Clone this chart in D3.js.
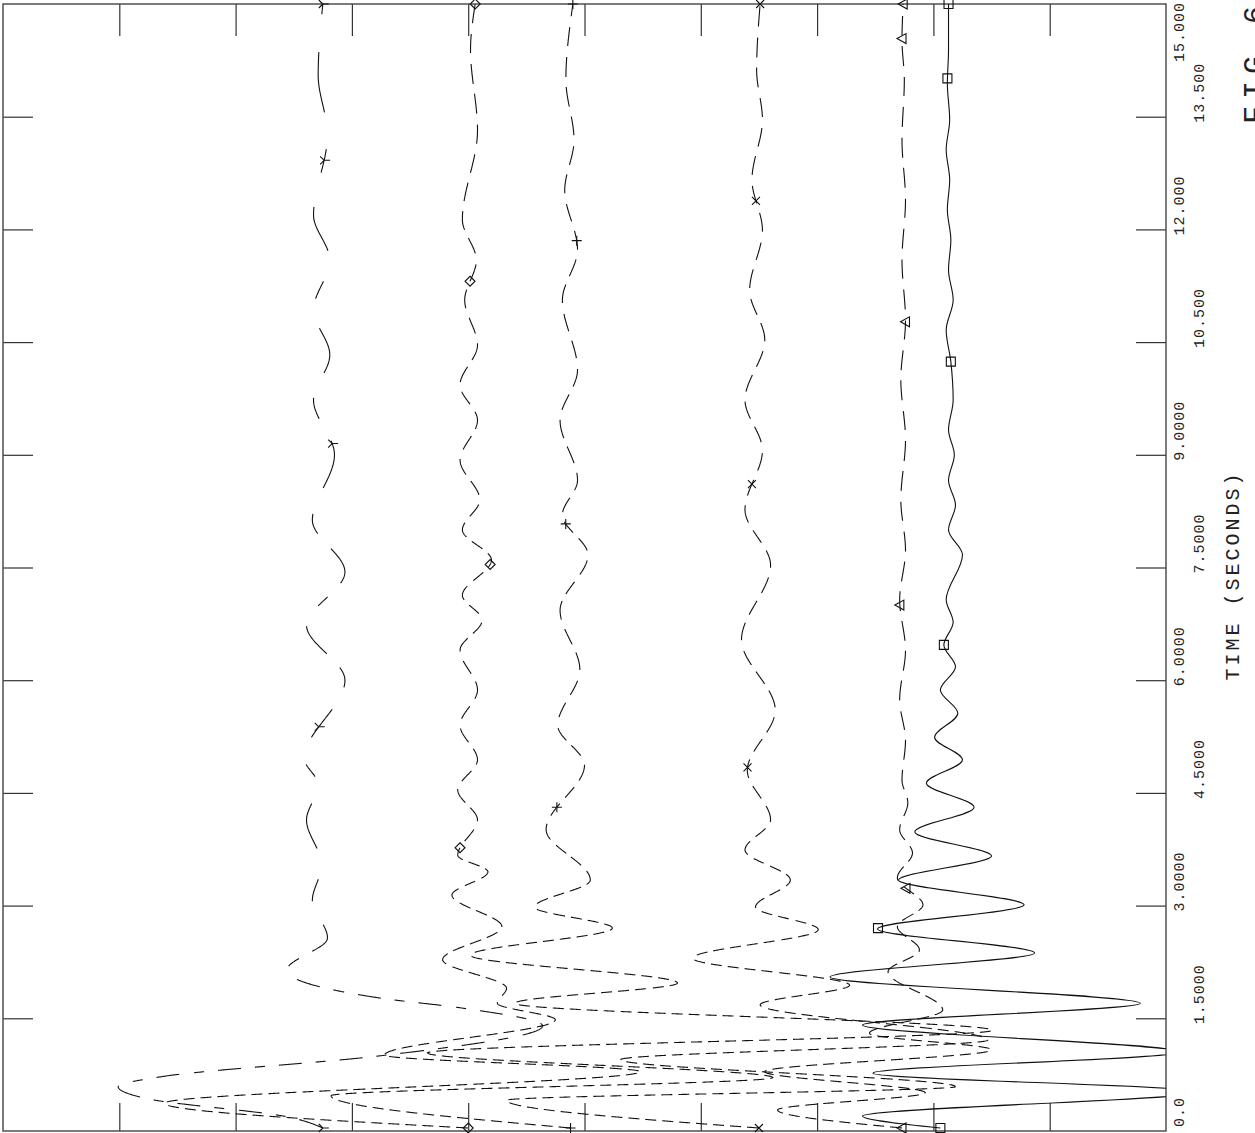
<!DOCTYPE html>
<html><head><meta charset="utf-8">
<script src="https://cdn.jsdelivr.net/npm/d3@7"></script>
<style>
html,body{margin:0;padding:0;background:#fff;}
svg{display:block;}
text{font-family:"Liberation Mono","DejaVu Sans Mono",monospace;fill:#222;}
</style></head><body>
<svg id="chart" width="1255" height="1133"></svg>
<script>
// ---------------- data ----------------
const timeTicks = [0, 1.5, 3, 4.5, 6, 7.5, 9, 10.5, 12, 13.5, 15];
const timeTickLabels = ["0.0","1.5000","3.0000","4.5000","6.0000","7.5000","9.0000","10.500","12.000","13.500","15.000"];
const gridTicks = [1, 2, 3, 4, 5, 6, 7, 8, 9];
const axisTitle = "TIME (SECONDS)";
const figLabel = "FIG 6";

// trace A (long dash / short dash, "Y" marker)
const timeA = [0.04,0.19,0.43,0.59,0.72,1.00,1.40,1.64,1.77,2.14,2.57,3.07,3.54,4.14,4.61,4.96,6.00,6.73,7.44,8.13,9.00,9.73,10.33,10.93,11.59,12.19,13.26,14.05,15.0];
const dispA = [2.75,2.44,1.24,0.99,1.35,3.24,4.64,3.93,3.24,2.44,2.79,2.66,2.74,2.61,2.71,2.59,2.94,2.61,2.94,2.66,2.85,2.67,2.81,2.67,2.81,2.67,2.79,2.71,2.75];
const markA = [0.04,5.38,9.15,12.92,15.0];

// trace B (dashed, diamond)
const timeB = [0.04,0.37,0.79,1.01,1.48,1.70,1.90,2.28,2.72,3.14,3.45,3.67,4.14,4.54,4.94,5.40,5.87,6.40,6.80,7.13,7.60,8.00,8.40,8.93,9.46,9.93,10.46,11.06,11.59,12.13,13.32,14.39,15.0];
const dispB = [4.00,1.39,5.48,3.28,4.75,4.25,4.33,3.78,4.29,3.86,4.17,3.91,4.08,3.91,4.08,3.93,4.08,3.93,4.12,3.95,4.20,3.95,4.10,3.93,4.08,3.93,4.08,3.97,4.07,3.95,4.08,4.02,4.06];
const markB = [0.04,3.77,7.54,11.31,15.0];

// trace C (dashed, plus)
const timeC = [0.04,0.47,0.71,1.04,1.34,1.70,1.97,2.34,2.70,2.98,3.34,4.01,4.87,5.40,6.14,6.93,7.67,8.20,8.66,9.46,10.13,11.06,11.73,12.52,13.19,13.99,15.0];
const dispC = [4.88,2.82,6.62,3.65,8.51,4.40,5.80,4.02,5.24,4.57,5.05,4.67,5.00,4.77,4.96,4.79,5.03,4.81,4.94,4.79,4.94,4.81,4.94,4.83,4.91,4.84,4.90];
const markC = [0.04,4.31,8.08,11.85,15.0];

// trace D (dashed, cross)
const timeD = [0.04,0.41,0.59,0.95,1.21,1.68,1.94,2.30,2.68,2.98,3.34,3.74,4.14,4.80,5.60,6.54,7.53,8.27,9.06,9.73,10.53,11.19,11.99,12.66,13.46,14.12,15.0];
const dispD = [6.50,4.33,8.19,5.31,8.47,6.51,7.28,5.93,7.01,6.47,6.77,6.38,6.60,6.40,6.64,6.35,6.60,6.38,6.53,6.38,6.55,6.42,6.53,6.44,6.53,6.48,6.51];
const markD = [0.04,4.84,8.61,12.38,15.0];

// trace E (dashed, triangle)
const timeE = [0.04,0.28,0.51,0.79,1.08,1.30,1.61,2.12,2.41,2.72,3.01,3.37,3.70,4.01,4.37,4.67,5.20,5.74,6.40,7.07,7.73,8.40,9.20,10.00,10.79,11.59,12.39,13.19,13.99,14.52,15.0];
const dispE = [7.73,6.66,7.93,6.55,8.50,7.45,8.08,7.61,7.88,7.69,7.91,7.69,7.82,7.71,7.78,7.73,7.76,7.71,7.76,7.71,7.76,7.72,7.76,7.72,7.76,7.73,7.76,7.73,7.75,7.73,7.74];
const markE = [0.04,3.23,7.00,10.77,14.54,15.0];

// trace F (solid, square)
const timeF = [0.04,0.20,0.52,0.77,1.05,1.41,1.70,2.05,2.37,2.69,3.01,3.34,3.66,3.98,4.31,4.63,4.94,5.24,5.56,5.87,6.18,6.47,6.77,7.07,7.67,8.00,8.33,8.66,9.00,9.33,9.73,10.24,10.66,11.06,11.46,11.86,12.26,12.66,13.06,13.46,13.94,14.39,15.0];
const dispF = [8.06,7.39,10.29,7.48,10.12,7.39,9.78,7.11,8.87,7.52,8.78,7.70,8.50,7.84,8.35,7.94,8.25,8.01,8.21,8.06,8.19,8.09,8.17,8.11,8.25,8.13,8.19,8.13,8.18,8.13,8.17,8.15,8.11,8.17,8.13,8.15,8.12,8.14,8.11,8.14,8.12,8.13,8.13];
const markF = [0.04,2.70,6.47,10.24,14.01,15.0];

// ---------------- drawing ----------------
const svg = d3.select("#chart");
const frame = {left: 3, right: 1166, top: 4, bottom: 1131};
const x = d3.scaleLinear().domain([0, 10]).range([frame.left, frame.right]);
const y = d3.scaleLinear().domain([0, 15]).range([frame.bottom, frame.top]);

svg.append("rect").attr("width",1255).attr("height",1133).attr("fill","#fff");

svg.append("defs").append("clipPath").attr("id","clip")
  .append("rect").attr("x",frame.left).attr("y",frame.top)
  .attr("width",frame.right-frame.left).attr("height",frame.bottom-frame.top);

const axisStyle = g => { g.select(".domain").remove(); g.selectAll("line").attr("stroke","#333").attr("stroke-width",1.2); g.selectAll("text").remove(); };

svg.append("g").attr("transform",`translate(0,${frame.top})`)
  .call(d3.axisBottom(x).tickValues(gridTicks).tickSize(32).tickFormat("")).call(axisStyle);
svg.append("g").attr("transform",`translate(0,${frame.bottom})`)
  .call(d3.axisTop(x).tickValues(gridTicks).tickSize(28).tickFormat("")).call(axisStyle);
const innerTimes = timeTicks.slice(1, -1);
svg.append("g").attr("transform",`translate(${frame.left},0)`)
  .call(d3.axisRight(y).tickValues(innerTimes).tickSize(30).tickFormat("")).call(axisStyle);
svg.append("g").attr("transform",`translate(${frame.right},0)`)
  .call(d3.axisLeft(y).tickValues(innerTimes).tickSize(30).tickFormat("")).call(axisStyle);

svg.append("rect").attr("x",frame.left).attr("y",frame.top)
  .attr("width",frame.right-frame.left).attr("height",frame.bottom-frame.top)
  .attr("fill","none").attr("stroke","#444").attr("stroke-width",1.4);

// tick labels (rotated, alternating columns)
const labG = svg.append("g");
timeTicks.forEach((t,i)=>{
  const bx = (i % 2 === 0) ? 1184 : 1204;
  const txt = labG.append("text").text(timeTickLabels[i])
    .attr("font-size",15).attr("letter-spacing",1).attr("text-anchor","start");
  const len = txt.node().getComputedTextLength();
  let sy = Math.min(y(t) + 6, 1127);
  if (sy - len < 2) sy = 2 + len;
  txt.attr("transform",`translate(${bx},${sy}) rotate(-90)`);
});

svg.append("text").text(axisTitle)
  .attr("font-size",20).attr("letter-spacing",3).attr("text-anchor","middle")
  .attr("transform",`translate(1239,${(frame.top+frame.bottom)/2+8}) rotate(-90)`);

svg.append("text").text(figLabel)
  .attr("font-family","Liberation Sans, Arial, sans-serif")
  .attr("font-size",30).attr("letter-spacing",7).attr("text-anchor","start")
  .attr("transform",`translate(1264,124) rotate(-90)`);

// traces
const line = d3.line().x(d=>x(d.v)).y(d=>y(d.t)).curve(d3.curveMonotoneY);
const traces = [
  {t: timeA, v: dispA, m: markA, dash: [23,14,10,14], ky: 2.8, mk: "yee"},
  {t: timeB, v: dispB, m: markB, dash: [11,6], ky: 1.8, mk: "diamond"},
  {t: timeC, v: dispC, m: markC, dash: [11,6], ky: 1.8, mk: "plus"},
  {t: timeD, v: dispD, m: markD, dash: [11,6], ky: 1.8, mk: "cross"},
  {t: timeE, v: dispE, m: markE, dash: [11,6], ky: 1.8, mk: "tri"},
  {t: timeF, v: dispF, m: markF, dash: null, ky: 1, mk: "square"}
];
const markerPath = {
  yee: "M0,0L6,0M0,0L-4,-4M0,0L-4,4",
  diamond: "M0,-5L5,0L0,5L-5,0Z",
  plus: "M-5,0L5,0M0,-5L0,5",
  cross: "M-4,-4L4,4M-4,4L4,-4",
  tri: "M-5,0L4,-5L4,5Z",
  square: "M-4.5,-4.5H4.5V4.5H-4.5Z"
};

function dashed(node, pattern, ky){
  const L = node.getTotalLength();
  const segs = []; let cur = []; let idx = 0; let rem = pattern[0]; let on = true;
  let prev = node.getPointAtLength(0); cur.push(prev);
  for (let s = 1; s <= L + 0.5; s += 1){
    const p = node.getPointAtLength(Math.min(s, L));
    const d = Math.hypot(p.x-prev.x, (p.y-prev.y)/ky);
    rem -= d;
    if (on) cur.push(p);
    if (rem <= 0){
      if (on){ segs.push(cur); cur = []; } else { cur = [p]; }
      on = !on; idx = (idx+1) % pattern.length; rem += pattern[idx];
    }
    prev = p;
  }
  if (on && cur.length > 1) segs.push(cur);
  return segs.map(s=>"M"+s.map(p=>p.x.toFixed(2)+","+p.y.toFixed(2)).join("L")).join("");
}
function pointAtY(node, yy){
  let lo = 0, hi = node.getTotalLength();
  for (let i=0;i<40;i++){ const mid=(lo+hi)/2; const p=node.getPointAtLength(mid); if (p.y > yy) lo = mid; else hi = mid; }
  return node.getPointAtLength((lo+hi)/2);
}

const traceG = svg.append("g").attr("clip-path","url(#clip)");
const markG = svg.append("g");
traces.forEach(tr=>{
  const pts = tr.t.map((t,i)=>({t, v: tr.v[i]}));
  const base = traceG.append("path").attr("d", line(pts))
    .attr("fill","none").attr("stroke","#111").attr("stroke-width",1.1);
  const node = base.node();
  tr.m.forEach(tm=>{
    const p = pointAtY(node, y(tm));
    markG.append("path").attr("d", markerPath[tr.mk])
      .attr("transform",`translate(${p.x},${p.y})`)
      .attr("fill","none").attr("stroke","#111").attr("stroke-width",1.1);
  });
  if (tr.dash){
    base.attr("d", dashed(node, tr.dash, tr.ky));
  }
});
</script>
</body></html>
